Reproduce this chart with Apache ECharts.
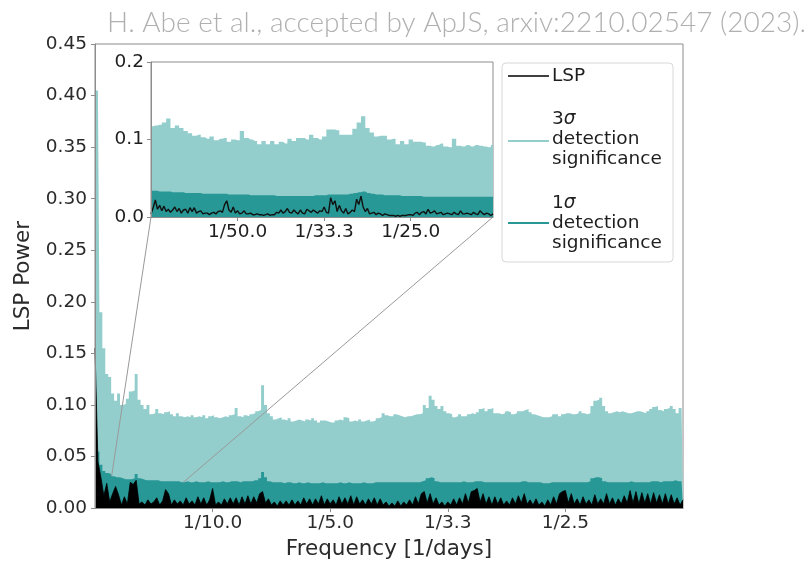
<!DOCTYPE html>
<html>
<head>
<meta charset="utf-8">
<title>LSP periodogram</title>
<script src="https://cdn.jsdelivr.net/npm/echarts@6/dist/echarts.min.js"></script>
<style>
  html, body { margin: 0; padding: 0; background: #fff; }
  #chart { width: 810px; height: 565px; }
</style>
</head>
<body>
<div id="chart"></div>
<script>
// main panel, 0 - 0.5 [1/days], one value every 0.0025
const mainFreqStart = 0;
const mainFreqStep = 0.0025;
const main3sigma = [
  0.405, 0.405, 0.190, 0.155, 0.130, 0.127, 0.111, 0.104, 0.111, 0.100,
  0.101, 0.106, 0.113, 0.114, 0.130, 0.105, 0.100, 0.096, 0.100, 0.091,
  0.092, 0.096, 0.092, 0.091, 0.093, 0.094, 0.091, 0.089, 0.092, 0.089,
  0.088, 0.089, 0.088, 0.090, 0.088, 0.089, 0.088, 0.090, 0.087, 0.089,
  0.090, 0.088, 0.087, 0.088, 0.089, 0.088, 0.090, 0.091, 0.097, 0.089,
  0.088, 0.090, 0.089, 0.091, 0.092, 0.094, 0.095, 0.119, 0.100, 0.092,
  0.089, 0.086, 0.087, 0.088, 0.086, 0.085, 0.087, 0.084, 0.085, 0.086,
  0.085, 0.084, 0.086, 0.085, 0.087, 0.085, 0.083, 0.085, 0.085, 0.084,
  0.083, 0.083, 0.085, 0.086, 0.085, 0.088, 0.087, 0.084, 0.085, 0.084,
  0.086, 0.084, 0.085, 0.086, 0.084, 0.085, 0.087, 0.088, 0.092, 0.090,
  0.089, 0.089, 0.091, 0.090, 0.089, 0.088, 0.089, 0.089, 0.090, 0.091,
  0.091, 0.092, 0.100, 0.097, 0.109, 0.105, 0.099, 0.096, 0.099, 0.094,
  0.092, 0.091, 0.088, 0.089, 0.091, 0.089, 0.089, 0.091, 0.092, 0.091,
  0.093, 0.096, 0.097, 0.094, 0.096, 0.097, 0.092, 0.092, 0.091, 0.092,
  0.094, 0.093, 0.091, 0.092, 0.094, 0.094, 0.095, 0.096, 0.093, 0.091,
  0.090, 0.089, 0.088, 0.088, 0.088, 0.089, 0.091, 0.091, 0.089, 0.091,
  0.092, 0.092, 0.091, 0.091, 0.092, 0.094, 0.092, 0.091, 0.092, 0.099,
  0.104, 0.105, 0.107, 0.099, 0.094, 0.092, 0.093, 0.094, 0.093, 0.094,
  0.093, 0.092, 0.092, 0.093, 0.094, 0.094, 0.093, 0.092, 0.094, 0.096,
  0.098, 0.099, 0.095, 0.094, 0.096, 0.097, 0.099, 0.096, 0.092, 0.097,
  0.099
];
const main1sigma = [
  0.240, 0.055, 0.042, 0.036, 0.034, 0.033, 0.031, 0.030, 0.030, 0.029,
  0.028, 0.028, 0.028, 0.029, 0.033, 0.029, 0.028, 0.027, 0.027, 0.027,
  0.027, 0.027, 0.026, 0.026, 0.026, 0.026, 0.026, 0.026, 0.026, 0.025,
  0.025, 0.026, 0.025, 0.025, 0.026, 0.025, 0.025, 0.025, 0.026, 0.025,
  0.025, 0.025, 0.025, 0.026, 0.025, 0.025, 0.026, 0.026, 0.026, 0.025,
  0.026, 0.026, 0.026, 0.026, 0.027, 0.027, 0.029, 0.035, 0.030, 0.026,
  0.025, 0.025, 0.025, 0.025, 0.024, 0.025, 0.025, 0.024, 0.024, 0.025,
  0.024, 0.024, 0.025, 0.024, 0.024, 0.024, 0.024, 0.025, 0.024, 0.024,
  0.024, 0.024, 0.024, 0.025, 0.024, 0.024, 0.025, 0.024, 0.024, 0.024,
  0.024, 0.025, 0.024, 0.024, 0.024, 0.025, 0.025, 0.025, 0.025, 0.025,
  0.025, 0.025, 0.025, 0.025, 0.025, 0.025, 0.025, 0.025, 0.025, 0.025,
  0.025, 0.026, 0.027, 0.029, 0.030, 0.029, 0.026, 0.025, 0.025, 0.025,
  0.025, 0.025, 0.025, 0.025, 0.025, 0.026, 0.025, 0.025, 0.025, 0.026,
  0.026, 0.026, 0.025, 0.025, 0.025, 0.025, 0.025, 0.025, 0.025, 0.025,
  0.025, 0.025, 0.025, 0.025, 0.025, 0.026, 0.026, 0.025, 0.025, 0.025,
  0.025, 0.025, 0.024, 0.024, 0.024, 0.025, 0.025, 0.025, 0.025, 0.025,
  0.025, 0.025, 0.025, 0.025, 0.025, 0.025, 0.025, 0.025, 0.026, 0.029,
  0.030, 0.030, 0.029, 0.026, 0.025, 0.025, 0.025, 0.025, 0.025, 0.025,
  0.025, 0.025, 0.026, 0.025, 0.025, 0.025, 0.025, 0.025, 0.025, 0.026,
  0.026, 0.026, 0.025, 0.026, 0.026, 0.026, 0.026, 0.027, 0.026, 0.026,
  0.027
];
const mainLsp = [
  0.155, 0.045, 0.030, 0.012, 0.024, 0.006, 0.014, 0.021, 0.013, 0.003,
  0.011, 0.004, 0.025, 0.023, 0.027, 0.004, 0.006, 0.003, 0.008, 0.004,
  0.006, 0.010, 0.003, 0.007, 0.018, 0.014, 0.003, 0.008, 0.004, 0.007,
  0.003, 0.010, 0.004, 0.007, 0.003, 0.011, 0.004, 0.010, 0.003, 0.008,
  0.019, 0.003, 0.006, 0.003, 0.009, 0.004, 0.010, 0.004, 0.010, 0.003,
  0.011, 0.004, 0.012, 0.004, 0.011, 0.005, 0.014, 0.016, 0.005, 0.009,
  0.003, 0.006, 0.002, 0.007, 0.003, 0.007, 0.003, 0.008, 0.003, 0.007,
  0.003, 0.010, 0.004, 0.009, 0.003, 0.009, 0.004, 0.012, 0.003, 0.009,
  0.004, 0.008, 0.003, 0.011, 0.004, 0.010, 0.004, 0.012, 0.003, 0.011,
  0.004, 0.008, 0.003, 0.009, 0.004, 0.010, 0.003, 0.009, 0.003, 0.006,
  0.002, 0.005, 0.002, 0.007, 0.002, 0.006, 0.003, 0.008, 0.003, 0.011,
  0.004, 0.014, 0.016, 0.005, 0.014, 0.004, 0.010, 0.003, 0.006, 0.002,
  0.006, 0.003, 0.009, 0.003, 0.010, 0.004, 0.014, 0.005, 0.016, 0.017,
  0.019, 0.006, 0.014, 0.004, 0.011, 0.003, 0.011, 0.004, 0.010, 0.003,
  0.007, 0.003, 0.010, 0.004, 0.012, 0.005, 0.014, 0.004, 0.008, 0.003,
  0.009, 0.003, 0.006, 0.002, 0.008, 0.003, 0.011, 0.004, 0.014, 0.016,
  0.017, 0.005, 0.014, 0.004, 0.009, 0.003, 0.011, 0.004, 0.008, 0.003,
  0.013, 0.004, 0.009, 0.004, 0.014, 0.004, 0.010, 0.003, 0.009, 0.004,
  0.012, 0.005, 0.017, 0.005, 0.016, 0.004, 0.015, 0.005, 0.014, 0.004,
  0.015, 0.005, 0.013, 0.004, 0.014, 0.004, 0.013, 0.004, 0.010, 0.003,
  0.008
];

// inset, 0.01 - 0.0495 [1/days]
const insetFreqStart = 0.01;
const insetSigmaStep = 0.0005;
const insetLspStep = 0.00025;
const inset3sigma = [
  0.117, 0.118, 0.119, 0.122, 0.127, 0.115, 0.118, 0.115, 0.111, 0.108,
  0.105, 0.106, 0.103, 0.101, 0.104, 0.099, 0.101, 0.102, 0.097, 0.100,
  0.099, 0.111, 0.102, 0.100, 0.098, 0.094, 0.098, 0.094, 0.098, 0.094,
  0.097, 0.095, 0.101, 0.098, 0.102, 0.102, 0.100, 0.106, 0.102, 0.100,
  0.104, 0.113, 0.113, 0.112, 0.106, 0.106, 0.106, 0.114, 0.122, 0.130,
  0.115, 0.109, 0.104, 0.105, 0.105, 0.100, 0.101, 0.094, 0.098, 0.094,
  0.100, 0.097, 0.097, 0.096, 0.092, 0.091, 0.093, 0.095, 0.091, 0.090,
  0.101, 0.092, 0.091, 0.093, 0.091, 0.093, 0.092, 0.091, 0.090, 0.093
];
const inset1sigma = [
  0.034, 0.034, 0.033, 0.033, 0.033, 0.032, 0.032, 0.032, 0.031, 0.031,
  0.031, 0.031, 0.030, 0.030, 0.030, 0.030, 0.030, 0.030, 0.029, 0.029,
  0.029, 0.029, 0.029, 0.028, 0.028, 0.028, 0.028, 0.028, 0.028, 0.027,
  0.027, 0.027, 0.027, 0.027, 0.027, 0.027, 0.027, 0.027, 0.028, 0.028,
  0.028, 0.029, 0.029, 0.029, 0.029, 0.029, 0.030, 0.031, 0.032, 0.033,
  0.031, 0.030, 0.029, 0.029, 0.028, 0.028, 0.028, 0.028, 0.027, 0.027,
  0.027, 0.027, 0.027, 0.026, 0.026, 0.026, 0.026, 0.026, 0.026, 0.026,
  0.026, 0.026, 0.026, 0.026, 0.026, 0.026, 0.026, 0.026, 0.026, 0.026
];
const insetLsp = [
  0.004, 0.012, 0.022, 0.010, 0.015, 0.008, 0.014, 0.007, 0.010, 0.006,
  0.009, 0.013, 0.007, 0.011, 0.005, 0.009, 0.010, 0.005, 0.012, 0.007,
  0.012, 0.005, 0.007, 0.008, 0.004, 0.005, 0.005, 0.003, 0.005, 0.006,
  0.004, 0.007, 0.008, 0.006, 0.016, 0.021, 0.009, 0.006, 0.013, 0.005,
  0.008, 0.004, 0.005, 0.008, 0.004, 0.004, 0.005, 0.003, 0.003, 0.004,
  0.003, 0.003, 0.002, 0.003, 0.004, 0.002, 0.003, 0.003, 0.006, 0.005,
  0.009, 0.005, 0.007, 0.011, 0.006, 0.005, 0.009, 0.006, 0.004, 0.009,
  0.005, 0.004, 0.010, 0.008, 0.006, 0.009, 0.007, 0.005, 0.008, 0.007,
  0.013, 0.006, 0.005, 0.025, 0.016, 0.021, 0.007, 0.015, 0.008, 0.005,
  0.011, 0.004, 0.006, 0.009, 0.007, 0.023, 0.016, 0.027, 0.013, 0.007,
  0.011, 0.004, 0.005, 0.006, 0.003, 0.005, 0.004, 0.002, 0.004, 0.003,
  0.002, 0.002, 0.002, 0.001, 0.002, 0.001, 0.002, 0.002, 0.002, 0.003,
  0.003, 0.002, 0.005, 0.006, 0.003, 0.006, 0.007, 0.004, 0.010, 0.005,
  0.006, 0.008, 0.004, 0.005, 0.006, 0.003, 0.004, 0.005, 0.004, 0.003,
  0.006, 0.004, 0.003, 0.008, 0.004, 0.004, 0.005, 0.004, 0.003, 0.006,
  0.004, 0.003, 0.008, 0.005, 0.003, 0.005, 0.004, 0.002, 0.004
];

const mainTickValues = [0.1, 0.2, 0.3, 0.4];
const mainTickLabels = ["1/10.0", "1/5.0", "1/3.3", "1/2.5"];
const insetTickValues = [0.02, 0.03, 0.04];
const insetTickLabels = ["1/50.0", "1/33.3", "1/25.0"];

const color3 = "#93cecd";
const color1 = "#289896";
const colorLsp = "#000000";
const frameColor = "#8c8c8c";
const tickFont = "DejaVu Sans";

const pairs = (start, step, values) => values.map((v, i) => [start + i * step, v]);
const labelOf = (values, labels) => (v) => {
  const i = values.findIndex((t) => Math.abs(t - v) < 1e-9);
  return i < 0 ? "" : labels[i];
};

const chart = echarts.init(document.getElementById("chart"), null, { renderer: "canvas" });

const axisCommon = {
  axisLine: { show: true, lineStyle: { color: frameColor, width: 1 } },
  axisTick: { show: true, length: 4, lineStyle: { color: frameColor } },
  splitLine: { show: false },
  z: 10,
};

const option = {
  animation: false,
  backgroundColor: "#fff",
  grid: [
    { left: 95, top: 44, width: 588, height: 469, show: true, borderColor: frameColor, borderWidth: 1, backgroundColor: "transparent" },
    { left: 151, top: 62, width: 342, height: 155, show: true, borderColor: frameColor, borderWidth: 1, backgroundColor: "#fff" },
  ],
  xAxis: [
    {
      ...axisCommon,
      gridIndex: 0,
      type: "value",
      min: 0,
      max: 0.5,
      axisTick: { ...axisCommon.axisTick, customValues: mainTickValues },
      axisLabel: {
        customValues: mainTickValues,
        formatter: labelOf(mainTickValues, mainTickLabels),
        color: "#2b2b2b",
        fontFamily: tickFont,
        fontSize: 18.5,
        margin: 6,
      },
      name: "Frequency [1/days]",
      nameLocation: "middle",
      nameGap: 19,
      nameTextStyle: { color: "#2b2b2b", fontFamily: tickFont, fontSize: 21.5, verticalAlign: "top" },
    },
    {
      ...axisCommon,
      gridIndex: 1,
      type: "value",
      min: insetFreqStart,
      max: 0.0495,
      axisTick: { ...axisCommon.axisTick, customValues: insetTickValues },
      axisLabel: {
        customValues: insetTickValues,
        formatter: labelOf(insetTickValues, insetTickLabels),
        color: "#1e1e1e",
        fontFamily: tickFont,
        fontSize: 18.5,
        margin: 6,
      },
    },
  ],
  yAxis: [
    {
      ...axisCommon,
      gridIndex: 0,
      type: "value",
      min: 0,
      max: 0.45,
      interval: 0.05,
      axisLabel: {
        formatter: (v) => v.toFixed(2),
        color: "#2b2b2b",
        fontFamily: tickFont,
        fontSize: 18.5,
        margin: 8,
      },
      name: "LSP Power",
      nameLocation: "middle",
      nameGap: 58,
      nameTextStyle: { color: "#2b2b2b", fontFamily: tickFont, fontSize: 21.5 },
    },
    {
      ...axisCommon,
      gridIndex: 1,
      type: "value",
      min: 0,
      max: 0.2,
      interval: 0.1,
      axisLabel: {
        formatter: (v) => v.toFixed(1),
        color: "#1e1e1e",
        fontFamily: tickFont,
        fontSize: 18.5,
        margin: 7,
      },
    },
  ],
  series: [
    {
      name: "3sigma",
      type: "line",
      xAxisIndex: 0,
      yAxisIndex: 0,
      step: "middle",
      symbol: "none",
      z: 2,
      lineStyle: { width: 0 },
      areaStyle: { color: color3, opacity: 1 },
      data: pairs(mainFreqStart, mainFreqStep, main3sigma),
    },
    {
      name: "1sigma",
      type: "line",
      xAxisIndex: 0,
      yAxisIndex: 0,
      step: "middle",
      symbol: "none",
      z: 4,
      lineStyle: { width: 0 },
      areaStyle: { color: color1, opacity: 1 },
      data: pairs(mainFreqStart, mainFreqStep, main1sigma),
    },
    {
      name: "LSP",
      type: "line",
      xAxisIndex: 0,
      yAxisIndex: 0,
      symbol: "none",
      z: 5,
      lineStyle: { width: 0.8, color: colorLsp },
      areaStyle: { color: colorLsp, opacity: 1 },
      data: pairs(mainFreqStart, mainFreqStep, mainLsp),
    },
    {
      type: "line",
      xAxisIndex: 1,
      yAxisIndex: 1,
      step: "middle",
      symbol: "none",
      z: 2,
      lineStyle: { width: 0 },
      areaStyle: { color: color3, opacity: 1 },
      data: pairs(insetFreqStart, insetSigmaStep, inset3sigma),
    },
    {
      type: "line",
      xAxisIndex: 1,
      yAxisIndex: 1,
      step: "middle",
      symbol: "none",
      z: 4,
      lineStyle: { width: 0 },
      areaStyle: { color: color1, opacity: 1 },
      data: pairs(insetFreqStart, insetSigmaStep, inset1sigma),
    },
    {
      type: "line",
      xAxisIndex: 1,
      yAxisIndex: 1,
      symbol: "none",
      z: 5,
      lineStyle: { width: 1.4, color: "#111" },
      data: pairs(insetFreqStart, insetLspStep, insetLsp),
    },
  ],
};

chart.setOption(option);

// connectors from the inset's lower corners to the zoomed range on the main axes
const insetMax = option.xAxis[1].max;
const inL = chart.convertToPixel({ gridIndex: 1 }, [insetFreqStart, 0]);
const inR = chart.convertToPixel({ gridIndex: 1 }, [insetMax, 0]);
const mnL = chart.convertToPixel({ gridIndex: 0 }, [insetFreqStart, 0]);
const mnR = chart.convertToPixel({ gridIndex: 0 }, [insetMax, 0]);

const legendText = { fill: "#1e1e1e", fontFamily: tickFont, fontSize: 18.5 };
const sigmaRich = { s: { fontFamily: tickFont, fontSize: 18.5, fontStyle: "italic", fill: "#1e1e1e" } };

chart.setOption({
  graphic: [
    { type: "line", z: 3, silent: true, shape: { x1: inL[0], y1: inL[1], x2: mnL[0], y2: mnL[1] }, style: { stroke: "#999", lineWidth: 1 } },
    { type: "line", z: 3, silent: true, shape: { x1: inR[0], y1: inR[1], x2: mnR[0], y2: mnR[1] }, style: { stroke: "#999", lineWidth: 1 } },
    // legend box
    { type: "rect", z: 20, shape: { x: 502, y: 63, width: 171, height: 199, r: 4 }, style: { fill: "#fff", stroke: "#d8d8d8", lineWidth: 1 } },
    { type: "line", z: 21, shape: { x1: 508, y1: 76, x2: 549, y2: 76 }, style: { stroke: colorLsp, lineWidth: 1.5 } },
    { type: "text", z: 21, x: 552, y: 76, style: { ...legendText, text: "LSP", verticalAlign: "middle" } },
    { type: "line", z: 21, shape: { x1: 508, y1: 141, x2: 549, y2: 141 }, style: { stroke: color3, lineWidth: 2 } },
    { type: "text", z: 21, x: 552, y: 139, style: { ...legendText, text: "3{s|σ}\ndetection\nsignificance", rich: sigmaRich, lineHeight: 20, verticalAlign: "middle" } },
    { type: "line", z: 21, shape: { x1: 508, y1: 223, x2: 549, y2: 223 }, style: { stroke: color1, lineWidth: 2 } },
    { type: "text", z: 21, x: 552, y: 223, style: { ...legendText, text: "1{s|σ}\ndetection\nsignificance", rich: sigmaRich, lineHeight: 20, verticalAlign: "middle" } },
    // credit line
    { type: "text", z: 21, x: 806, y: 23, style: { text: "H. Abe et al., accepted by ApJS, arxiv:2210.02547 (2023).", fill: "#b0b0b0", fontFamily: "Lato", fontWeight: 300, fontSize: 28, align: "right", verticalAlign: "middle" } },
  ],
});
</script>
</body>
</html>
